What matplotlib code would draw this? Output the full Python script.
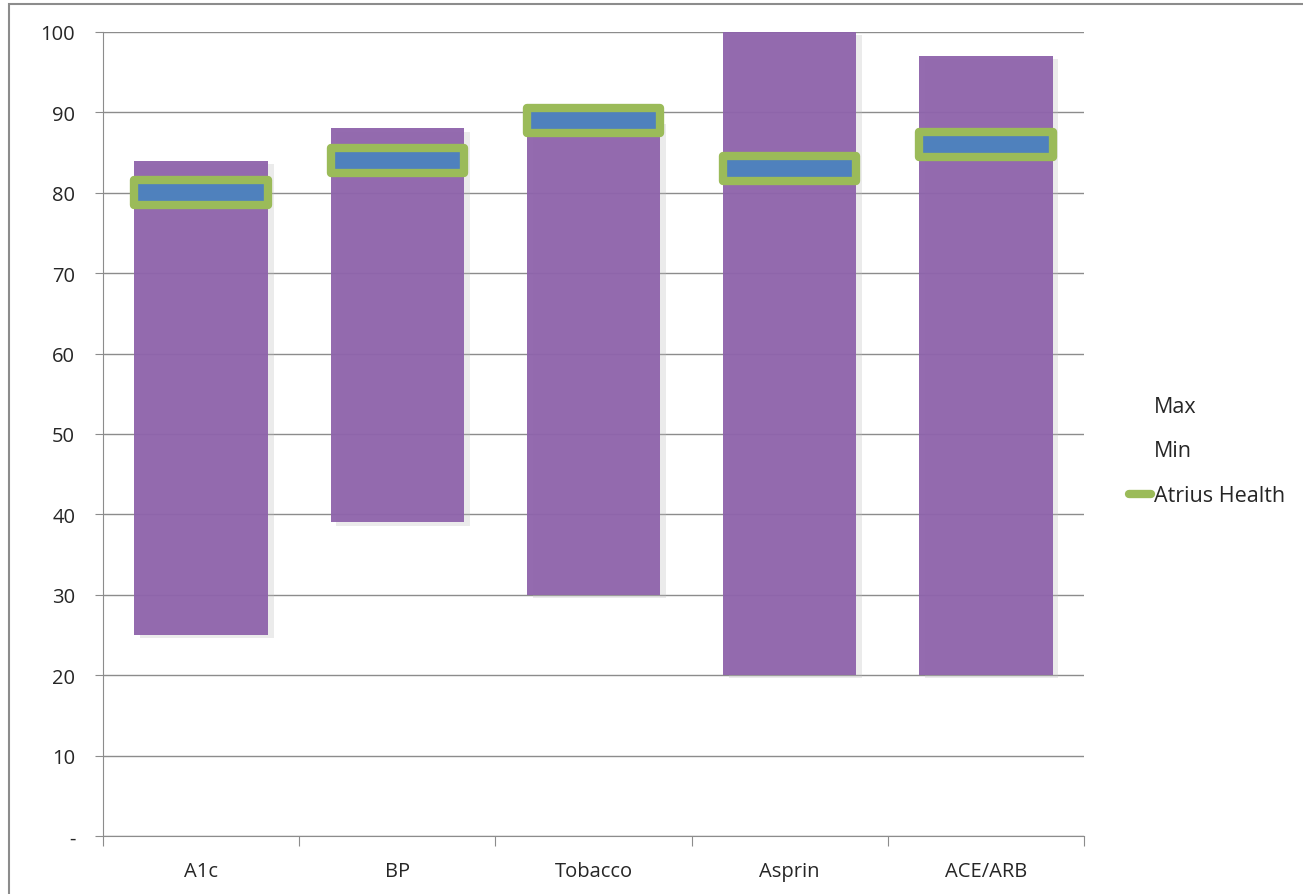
import matplotlib
matplotlib.use("Agg")
import matplotlib.pyplot as plt
from matplotlib.patches import Rectangle
from matplotlib.lines import Line2D
import numpy as np

categories = ["A1c", "BP", "Tobacco", "Asprin", "ACE/ARB"]
min_vals = [25, 39, 30, 20, 20]
max_vals = [84, 88, 89, 100, 97]
atrius_vals = [80, 84, 89, 83, 86]
y_ticks = [0, 10, 20, 30, 40, 50, 60, 70, 80, 90, 100]
y_labels = ["-", "10", "20", "30", "40", "50", "60", "70", "80", "90", "100"]

plt.rcParams['font.family'] = ['Open Sans', 'DejaVu Sans']

fig = plt.figure(figsize=(13.03, 8.95), dpi=100)
ax = fig.add_axes([103/1303, 1-837/895, (1084-103)/1303, (837-33)/895])

# outer chart border
fig.patches.append(Rectangle((9/1303, -0.01), 1.02, 1-5/895+0.01, transform=fig.transFigure,
                             fill=False, edgecolor="#8c8c8c", linewidth=1.5))

x = np.arange(len(categories))
w = 0.68
heights = [mx - mn for mn, mx in zip(min_vals, max_vals)]

# subtle shadow
ax.bar(x + 0.03, heights, width=w, bottom=[m - 0.4 for m in min_vals], color="#bdbdbd",
       alpha=0.3, zorder=1)
ax.bar(x, heights, width=w, bottom=min_vals, color="#8e63ab", alpha=0.95, zorder=2)

# Atrius marker
mh = 3.1
ax.bar(x, [mh]*len(x), width=w, bottom=[v - mh/2 for v in atrius_vals], color="#4f81bd",
       edgecolor="#9bbb59", linewidth=6, joinstyle="round", zorder=4)

ax.set_xlim(-0.5, len(categories) - 0.5)
ax.set_ylim(0, 100)
ax.set_yticks(y_ticks)
ax.set_yticklabels(y_labels, fontsize=14.5, color="#262626")
ax.yaxis.grid(True, color="#8c8c8c", linewidth=1, zorder=0)
ax.set_axisbelow(True)

ax.set_xticks(np.arange(len(categories) + 1) - 0.5)
ax.set_xticklabels([])
ax.set_xticks(x, minor=True)
ax.set_xticklabels(categories, minor=True, fontsize=14.5, color="#262626")
ax.tick_params(axis="x", which="major", length=7, color="#8c8c8c", direction="out")
ax.tick_params(axis="x", which="minor", length=0, pad=18)
ax.tick_params(axis="y", length=6, color="#8c8c8c", pad=14)

for s in ["top", "right"]:
    ax.spines[s].set_visible(False)
for s in ["left", "bottom"]:
    ax.spines[s].set_color("#8c8c8c")

handles = [Line2D([], [], color="none"), Line2D([], [], color="none"),
           Line2D([], [], color="#9bbb59", linewidth=6, solid_capstyle="round")]
fig.legend(handles, ["Max", "Min", "Atrius Health"], loc="center left",
           bbox_to_anchor=(1110/1303, 1-452/895), frameon=False, fontsize=15.5,
           handlelength=1.0, handletextpad=0.15, labelspacing=1.1, labelcolor="#262626")

fig.savefig("out.png", dpi=100)
